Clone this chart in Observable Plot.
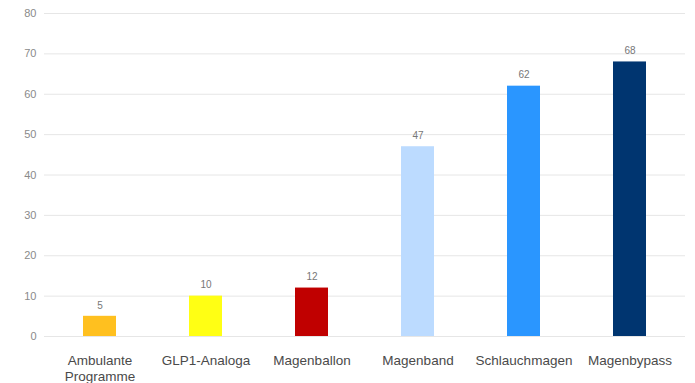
<!DOCTYPE html>
<html><head><meta charset="utf-8">
<script src="https://cdn.jsdelivr.net/npm/d3@7"></script>
<script src="https://cdn.jsdelivr.net/npm/@observablehq/plot@0.6"></script>
<style>body{margin:0;background:#fff;font-family:"Liberation Sans",Arial,sans-serif}</style>
</head><body><div id="chart"></div>
<script>
const categories = ["Ambulante\nProgramme","GLP1-Analoga","Magenballon","Magenband","Schlauchmagen","Magenbypass"];
const values = [5,10,12,47,62,68];
const colors = ["#FFC01F","#FFFF14","#C00000","#BCDBFF","#2A96FF","#003570"];
const yTicks = [0,10,20,30,40,50,60,70,80];
const data = categories.map((c,i)=>({cat:c,value:values[i],color:colors[i]}));

const chart = Plot.plot({
  width:695, height:383,
  marginTop:13, marginBottom:47, marginLeft:44, marginRight:10,
  style:{fontFamily:"Liberation Sans, Arial, sans-serif", background:"#fff"},
  x:{domain:categories, paddingInner:0.69, paddingOuter:0.345, label:null},
  y:{domain:[0,80], label:null},
  marks:[
    Plot.gridY(yTicks,{stroke:"#e6e6e6", strokeOpacity:1}),
    Plot.axisY(yTicks,{tickSize:0, tickPadding:8, fill:"#8a8a8a", fontSize:11, label:null}),
    Plot.axisX({tickSize:0, tickPadding:17, fill:"#4a4a4a", fontSize:13.5, lineHeight:1.17, label:null}),
    Plot.barY(data,{x:"cat", y:"value", fill:"color"}),
    Plot.text(data,{x:"cat", y:"value", text:d=>String(d.value), dy:-11, fill:"#777", fontSize:10})
  ]
});
document.getElementById("chart").appendChild(chart);
</script></body></html>
